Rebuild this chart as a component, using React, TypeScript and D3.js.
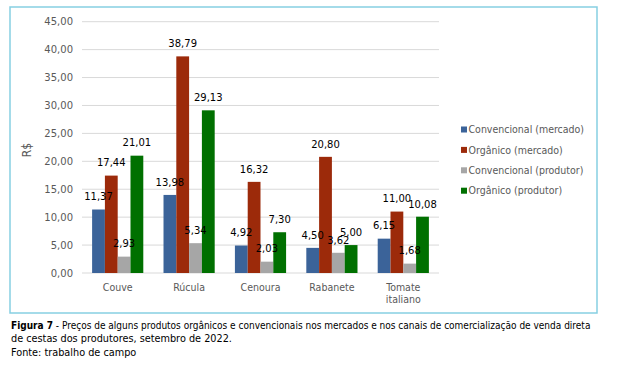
import React from 'react';
import * as d3 from 'd3';

// Data
const categories = ['Couve', 'Rúcula', 'Cenoura', 'Rabanete', 'Tomate italiano'];
const seriesNames = [
  'Convencional (mercado)',
  'Orgânico (mercado)',
  'Convencional (produtor)',
  'Orgânico (produtor)',
];
const convMercado = [11.37, 13.98, 4.92, 4.5, 6.15];
const orgMercado = [17.44, 38.79, 16.32, 20.8, 11.0];
const convProdutor = [2.93, 5.34, 2.03, 3.62, 1.68];
const orgProdutor = [21.01, 29.13, 7.3, 5.0, 10.08];
const yTicks = [0, 5, 10, 15, 20, 25, 30, 35, 40, 45];
const colors = ['#3b6399', '#9c2a0a', '#a6a6a6', '#007000'];

const seriesValues = [convMercado, orgMercado, convProdutor, orgProdutor];

const fmt = (v: number) => v.toFixed(2).replace('.', ',');

const W = 628;
const H = 372;
const plot = { left: 82, right: 439, top: 21.7, bottom: 273 };

const numFont = '"DejaVu Sans", sans-serif';
const txtFont = '"DejaVu Sans Condensed", "DejaVu Sans", sans-serif';

const App = () => {
  const x0 = d3.scaleBand<string>().domain(categories).range([plot.left, plot.right]).padding(0);
  const x1 = d3
    .scaleBand<string>()
    .domain(seriesNames)
    .range([0, x0.bandwidth()])
    .paddingInner(0)
    .paddingOuter(0.79);
  const y = d3.scaleLinear().domain([0, 45]).range([plot.bottom, plot.top]);

  return (
    <svg
      width={W}
      height={H}
      style={{ position: 'absolute', left: 0, top: 0, background: '#fff' }}
    >
      {/* frame */}
      <rect x={10} y={7} width={587} height={306} fill="none" stroke="#86cfe2" strokeWidth={1.5} />

      {/* grid + y labels */}
      {yTicks.map((t) => (
        <g key={t}>
          <line x1={plot.left} x2={plot.right} y1={y(t)} y2={y(t)} stroke="#d9d9d9" strokeWidth={1} />
          <text
            x={73}
            y={y(t)}
            dy="0.35em"
            textAnchor="end"
            fontFamily={numFont}
            fontSize={10}
            fill="#595959"
          >
            {fmt(t)}
          </text>
        </g>
      ))}

      {/* y axis title */}
      <text
        transform="translate(31,150) rotate(-90)"
        textAnchor="middle"
        fontFamily={txtFont}
        fontSize={12}
        fill="#595959"
      >
        R$
      </text>

      {/* bars */}
      {categories.map((c, i) => (
        <g key={c} transform={`translate(${x0(c)},0)`}>
          {seriesNames.map((s, j) => {
            const v = seriesValues[j][i];
            return (
              <rect
                key={s}
                x={x1(s)}
                y={y(v)}
                width={x1.bandwidth()}
                height={y(0) - y(v)}
                fill={colors[j]}
              />
            );
          })}
        </g>
      ))}

      {/* data labels */}
      {categories.map((c, i) => (
        <g key={c} transform={`translate(${x0(c)},0)`}>
          {seriesNames.map((s, j) => {
            const v = seriesValues[j][i];
            return (
              <text
                key={s}
                x={(x1(s) as number) + x1.bandwidth() / 2}
                y={y(v) - 12.7}
                dy="0.35em"
                textAnchor="middle"
                fontFamily={numFont}
                fontSize={10}
                fill="#000"
              >
                {fmt(v)}
              </text>
            );
          })}
        </g>
      ))}

      {/* category labels */}
      {categories.map((c) => {
        const lines = c === 'Tomate italiano' ? ['Tomate', 'italiano'] : [c];
        const cx = (x0(c) as number) + x0.bandwidth() / 2;
        return (
          <text
            key={c}
            x={cx}
            y={287}
            textAnchor="middle"
            fontFamily={txtFont}
            fontSize={10.5}
            fill="#595959"
          >
            {lines.map((l, k) => (
              <tspan key={l} x={cx} dy={k === 0 ? '0.35em' : 12.5}>
                {l}
              </tspan>
            ))}
          </text>
        );
      })}

      {/* legend */}
      {seriesNames.map((s, j) => (
        <g key={s} transform={`translate(461,${129.5 + j * 20.4})`}>
          <rect x={0} y={-3} width={6} height={6} fill={colors[j]} />
          <text x={7.5} y={0} dy="0.35em" fontFamily={txtFont} fontSize={10.5} fill="#595959">
            {s}
          </text>
        </g>
      ))}

      {/* caption */}
      <text x={11} y={325} dy="0.35em" fontFamily={txtFont} fontSize={10} fill="#000">
        <tspan fontWeight="bold">Figura 7</tspan>
        <tspan> - Preços de alguns produtos orgânicos e convencionais nos mercados e nos canais de comercialização de venda direta</tspan>
      </text>
      <text x={11} y={338.5} dy="0.35em" fontFamily={txtFont} fontSize={10.8} fill="#000">
        de cestas dos produtores, setembro de 2022.
      </text>
      <text x={11} y={352} dy="0.35em" fontFamily={txtFont} fontSize={10.8} fill="#000">
        Fonte: trabalho de campo
      </text>
    </svg>
  );
};

export default App;
